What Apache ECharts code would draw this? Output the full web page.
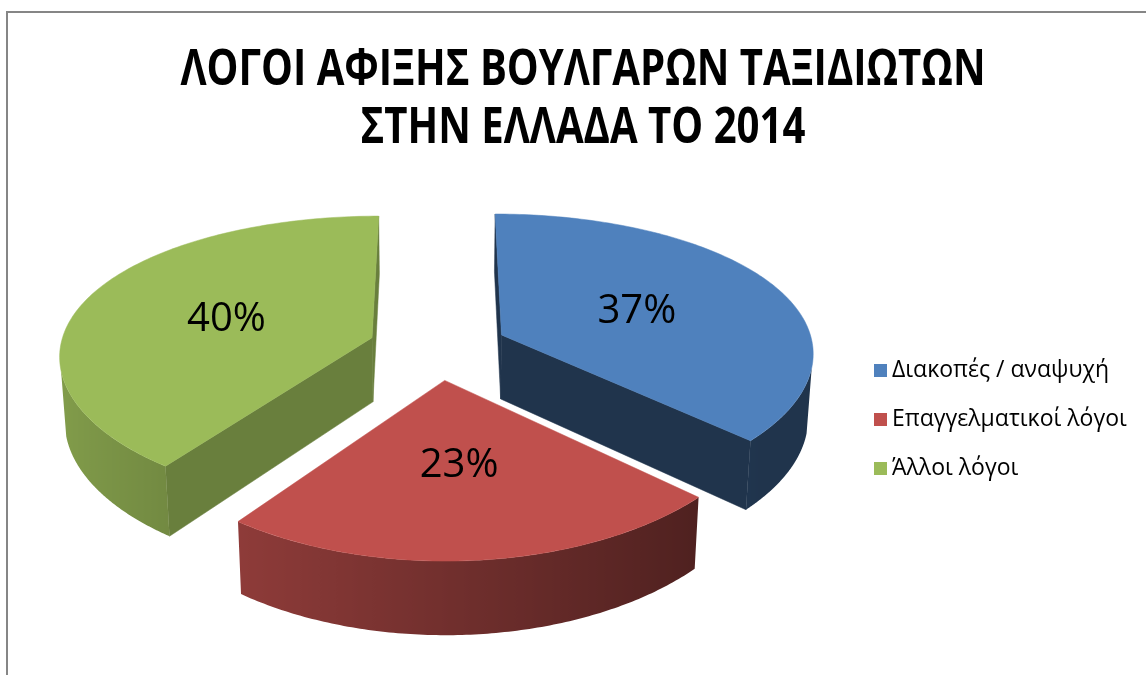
<!DOCTYPE html>
<html>
<head>
<meta charset="utf-8">
<script src="https://cdn.jsdelivr.net/npm/echarts@6/dist/echarts.min.js"></script>
<style>
html,body{margin:0;padding:0;background:#fff;}
#chart{width:1146px;height:675px;}
</style>
</head>
<body>
<div id="chart"></div>
<script>
// ---- data ----
const titleLines = ['ΛΟΓΟΙ ΑΦΙΞΗΣ ΒΟΥΛΓΑΡΩΝ ΤΑΞΙΔΙΩΤΩΝ', 'ΣΤΗΝ ΕΛΛΑΔΑ ΤΟ 2014'];
const categories = ['Διακοπές / αναψυχή', 'Επαγγελματικοί λόγοι', 'Άλλοι λόγοι'];
const values = [37, 23, 40];

// ---- style ----
const topColors = ['#4F81BD', '#C0504D', '#9BBB59'];
const sideShade = [0.40, 0.50, 0.68];
const FONT = '"Open Sans", "Noto Sans", sans-serif';

// projection parameters (layout)
const CX = 438, CY = 347.5, F = 1850, D = 5.93, KX = 0.75;
const TILT = 27.2 * Math.PI / 180;
const S = Math.sin(TILT), C = Math.cos(TILT);
const EXPLODE = 0.224, DEPTH = 0.237, LABEL_R = 0.5;

function P(u, v, h) {
  const y = v * S - h * C;
  const z = D + v * C + h * S;
  const zx = D + KX * (v * C + h * S);
  return [CX + F * u / zx, CY - F * y / z];
}
function shade(hex, m) {
  const n = parseInt(hex.slice(1), 16);
  const r = Math.round(((n >> 16) & 255) * m), g = Math.round(((n >> 8) & 255) * m), b = Math.round((n & 255) * m);
  return 'rgb(' + Math.min(255, r) + ',' + Math.min(255, g) + ',' + Math.min(255, b) + ')';
}

const total = values.reduce((a, b) => a + b, 0);
const starts = [];
values.reduce((acc, v, i) => { starts[i] = acc; return acc + v; }, 0);

function renderItem(params, api) {
  const idx = params.seriesIndex;
  const v = api.value(0), st = api.value(1), tot = api.value(2);
  const a0 = st / tot * 2 * Math.PI, a1 = (st + v) / tot * 2 * Math.PI;
  const mid = (a0 + a1) / 2;
  const ox = EXPLODE * Math.sin(mid), oy = EXPLODE * Math.cos(mid);
  const camU = 0, camV = -D * C;
  const base = topColors[idx];
  const children = [];
  const rim = (t, h) => P(ox + Math.sin(t), oy + Math.cos(t), h);

  // radial (cut) faces
  const faces = [
    { a: a0, n: [-Math.cos(a0), Math.sin(a0)] },
    { a: a1, n: [Math.cos(a1), -Math.sin(a1)] }
  ];
  faces.forEach(fc => {
    const dot = (camU - ox) * fc.n[0] + (camV - oy) * fc.n[1];
    if (dot > 0) {
      const col = shade(base, sideShade[idx]);
      children.push({
        type: 'polygon', z2: 1,
        shape: { points: [P(ox, oy, 0), rim(fc.a, 0), rim(fc.a, DEPTH), P(ox, oy, DEPTH)] },
        style: { fill: col, stroke: col, lineWidth: 0.5 }
      });
    }
  });

  // outer rim: find visible angular range
  const N = 240;
  let vs = null, ve = null;
  for (let k = 0; k <= N; k++) {
    const t = a0 + (a1 - a0) * k / N;
    const pu = ox + Math.sin(t), pv = oy + Math.cos(t);
    const dot = (camU - pu) * Math.sin(t) + (camV - pv) * Math.cos(t);
    if (dot > 0) { if (vs === null) vs = t; ve = t; }
  }
  if (vs !== null && ve > vs) {
    const K = 120;
    const topPts = [], botPts = [], samples = [];
    for (let k = 0; k <= K; k++) {
      const t = vs + (ve - vs) * k / K;
      const pt = rim(t, 0);
      topPts.push(pt);
      botPts.push(rim(t, DEPTH));
      samples.push({ x: pt[0], m: Math.max(0.40, 0.593 - 0.25 * Math.sin(t)) });
    }
    const xs = topPts.concat(botPts).map(p => p[0]);
    const xmin = Math.min.apply(null, xs), xmax = Math.max.apply(null, xs);
    samples.sort((p, q) => p.x - q.x);
    const stops = samples.map(sm => ({
      offset: Math.min(1, Math.max(0, (sm.x - xmin) / (xmax - xmin))),
      color: shade(base, sm.m)
    }));
    children.push({
      type: 'polygon', z2: 2,
      shape: { points: topPts.concat(botPts.reverse()) },
      style: { fill: new echarts.graphic.LinearGradient(0, 0, 1, 0, stops) }
    });
  }

  // top face
  const pts = [P(ox, oy, 0)];
  const M = Math.max(8, Math.ceil((a1 - a0) / (Math.PI / 180)));
  for (let k = 0; k <= M; k++) pts.push(rim(a0 + (a1 - a0) * k / M, 0));
  children.push({
    type: 'polygon', z2: 3,
    shape: { points: pts },
    style: { fill: base, stroke: base, lineWidth: 0.5 }
  });
  // data label
  const lp = P(ox + LABEL_R * Math.sin(mid), oy + LABEL_R * Math.cos(mid), 0);
  children.push({
    type: 'text', z2: 4,
    style: {
      text: Math.round(v / tot * 100) + '%',
      x: lp[0] - 2, y: lp[1] + 3,
      fill: '#000',
      font: '40px ' + FONT,
      textAlign: 'center', textVerticalAlign: 'middle',
      align: 'center', verticalAlign: 'middle'
    }
  });
  return { type: 'group', children: children };
}

const series = categories.map((name, i) => ({
  type: 'custom',
  name: name,
  coordinateSystem: 'none',
  z: i === 1 ? 3 : 2,
  silent: true,
  itemStyle: { color: topColors[i] },
  data: [[values[i], starts[i], total]],
  renderItem: renderItem
}));

// title: condensed bold text (Calibri-like proportions)
const TITLE_FONT = 'bold 50px ' + FONT;
const mctx = document.createElement('canvas').getContext('2d');
mctx.font = TITLE_FONT;
const titleScale = 805 / mctx.measureText(titleLines[0]).width;
const titleY = [71, 129];

const chart = echarts.init(document.getElementById('chart'), null, { renderer: 'canvas' });
chart.setOption({
  backgroundColor: '#fff',
  animation: false,
  legend: {
    orient: 'vertical',
    left: 869,
    top: 354,
    itemWidth: 13,
    itemHeight: 13,
    itemGap: 26,
    icon: 'rect',
    data: categories,
    selectedMode: false,
    textStyle: { fontFamily: FONT, fontSize: 23, color: '#000' }
  },
  graphic: [{
    type: 'rect',
    shape: { x: 7, y: 12, width: 1160, height: 700 },
    style: { fill: 'none', stroke: '#868686', lineWidth: 2 },
    silent: true
  }].concat(titleLines.map((t, i) => ({
    type: 'text',
    x: 583, y: titleY[i],
    scaleX: titleScale,
    silent: true,
    style: {
      text: t,
      font: TITLE_FONT,
      fill: '#000',
      textAlign: 'center', textVerticalAlign: 'middle',
      align: 'center', verticalAlign: 'middle'
    }
  }))),
  series: series
});
</script>
</body>
</html>
